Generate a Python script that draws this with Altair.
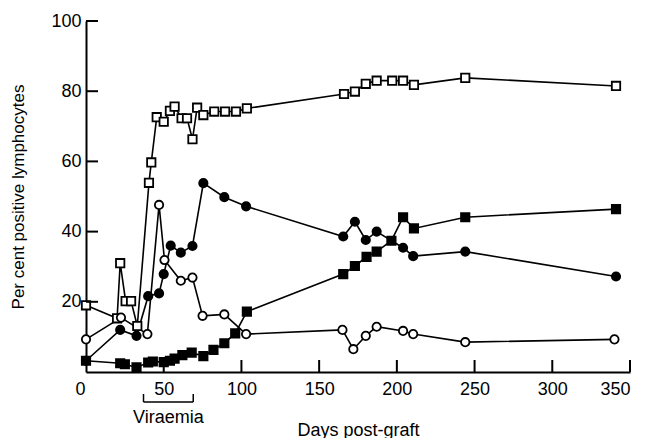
import altair as alt
import pandas as pd

# ---- data ----
open_sq_days = [0, 20, 22, 25.5, 29, 33, 40.5, 42, 45.5, 50, 54, 57, 61.5, 65, 68.5, 71.5, 75.5, 82.5, 89.5, 96.5, 103.5, 166, 173, 180, 187, 197, 204, 211, 244, 341]
open_sq_pct = [19, 15.3, 31, 20.2, 20.2, 13.1, 53.9, 59.7, 72.6, 71.3, 74.4, 75.6, 72.3, 72.3, 66.3, 75.3, 73.2, 74.2, 74.2, 74.2, 75.1, 79.2, 79.9, 82.1, 83, 83, 83, 81.8, 83.8, 81.5]

open_ci_days = [0, 22.5, 39.5, 47, 50.5, 61, 68.5, 75, 89, 103, 165, 172, 180, 187, 204, 210.5, 244, 340]
open_ci_pct = [9.3, 15.5, 10.8, 47.6, 31.9, 26, 26.9, 16, 16.4, 10.8, 12, 6.5, 10.3, 12.9, 11.7, 10.8, 8.5, 9.3]

filled_ci_days = [0, 22, 32.5, 40, 47, 50, 54.5, 61, 68.5, 75.5, 89, 103, 165.5, 173, 180, 187, 204, 210.5, 244, 341]
filled_ci_pct = [3.2, 12, 10.3, 21.6, 22.4, 27.9, 36, 34, 35.9, 53.8, 49.8, 47.2, 38.6, 42.8, 37.6, 40, 35.4, 33, 34.3, 27.2]

filled_sq_days = [0, 22, 25, 32.5, 40, 43, 50, 54, 57, 62, 68, 75.5, 82, 89, 96, 103.5, 165.5, 173, 180.5, 187, 196.5, 204, 211, 244, 341]
filled_sq_pct = [3.2, 2.5, 2.2, 1.3, 2.7, 3, 2.8, 3.2, 3.8, 4.8, 5.5, 4.5, 6.3, 8.2, 11, 17.2, 27.9, 30.2, 32.8, 34.3, 37.4, 44.1, 40.9, 44.1, 46.4]

series_names = ["open_square", "open_circle", "filled_circle", "filled_square"]
series_shapes = ["square", "circle", "circle", "square"]
series_fills = ["white", "white", "black", "black"]

x_tick_values = [0, 50, 100, 150, 200, 250, 300, 350]
y_tick_values = [0, 20, 40, 60, 80, 100]
x_inner_ticks = [50, 100, 150, 200, 250, 300, 350]
y_inner_ticks = [20, 40, 60, 80, 100]

viraemia_start = 37
viraemia_end = 69
viraemia_label = "Viraemia"

# ---- build tables ----
rows = []
for name, days, pct in [
    ("open_square", open_sq_days, open_sq_pct),
    ("open_circle", open_ci_days, open_ci_pct),
    ("filled_circle", filled_ci_days, filled_ci_pct),
    ("filled_square", filled_sq_days, filled_sq_pct),
]:
    for d, p in zip(days, pct):
        rows.append({"series": name, "day": d, "pct": p})
df = pd.DataFrame(rows)

W, H = 544, 351
FONT = "Liberation Sans"

xscale = alt.Scale(domain=[0, 350], nice=False, zero=False)
yscale = alt.Scale(domain=[0, 100], nice=False)

xenc = alt.X(
    "day:Q",
    scale=xscale,
    axis=alt.Axis(
        values=x_tick_values,
        title="Days post-graft",
        grid=False,
        ticks=False,
        domainColor="black",
        domainWidth=2,
        labelPadding=8,
        labelFontSize=18,
        labelFont=FONT,
        labelColor="black",
        labelOffset=alt.ExprRef("datum.value == 0 ? -11 : 0"),
        titleFontSize=18,
        titleFont=FONT,
        titleFontWeight="normal",
        titleColor="black",
        titleBaseline="middle",
        titleY=58,
    ),
)
yenc = alt.Y(
    "pct:Q",
    scale=yscale,
    axis=alt.Axis(
        values=y_tick_values,
        labelExpr="datum.value == 0 ? '' : datum.label",
        title="Per cent positive lymphocytes",
        grid=False,
        ticks=False,
        domainColor="black",
        domainWidth=2,
        labelPadding=5,
        labelFontSize=18,
        labelFont=FONT,
        labelColor="black",
        titleFontSize=17,
        titleFont=FONT,
        titleFontWeight="normal",
        titleColor="black",
        titleBaseline="middle",
        titleX=-68,
    ),
)

base = alt.Chart(df)

lines = base.mark_line(color="black", strokeWidth=1.6).encode(
    x=xenc, y=yenc, detail="series:N"
)

points = base.mark_point(filled=True, stroke="black", strokeWidth=1.8, opacity=1, size=70).encode(
    x=alt.X("day:Q", scale=xscale),
    y=alt.Y("pct:Q", scale=yscale),
    shape=alt.Shape("series:N", scale=alt.Scale(domain=series_names, range=series_shapes), legend=None),
    fill=alt.Fill("series:N", scale=alt.Scale(domain=series_names, range=series_fills), legend=None),
)

xt_df = pd.DataFrame({"t": x_inner_ticks})
x_ticks = alt.Chart(xt_df).mark_rule(color="black", strokeWidth=2).encode(
    x=alt.X("t:Q", scale=xscale),
    y=alt.value(H),
    y2=alt.value(H - 12),
)
yt_df = pd.DataFrame({"t": y_inner_ticks})
y_ticks = alt.Chart(yt_df).mark_rule(color="black", strokeWidth=2).encode(
    y=alt.Y("t:Q", scale=yscale),
    x=alt.value(0),
    x2=alt.value(12),
)

vir_df = pd.DataFrame({"start": [viraemia_start], "end": [viraemia_end],
                       "mid": [(viraemia_start + viraemia_end) / 2], "label": [viraemia_label]})
vir_bar = alt.Chart(vir_df).mark_rule(color="black", strokeWidth=1.5, clip=False).encode(
    x=alt.X("start:Q", scale=xscale), x2="end:Q", y=alt.value(H + 30)
)
vir_left = alt.Chart(vir_df).mark_rule(color="black", strokeWidth=1.5, clip=False).encode(
    x=alt.X("start:Q", scale=xscale), y=alt.value(H + 22), y2=alt.value(H + 30)
)
vir_right = alt.Chart(vir_df).mark_rule(color="black", strokeWidth=1.5, clip=False).encode(
    x=alt.X("end:Q", scale=xscale), y=alt.value(H + 22), y2=alt.value(H + 30)
)
vir_text = alt.Chart(vir_df).mark_text(font=FONT, fontSize=18, color="black", baseline="middle", align="center").encode(
    x=alt.X("mid:Q", scale=xscale), y=alt.value(H + 46), text="label:N"
)

chart = alt.layer(lines, points, x_ticks, y_ticks, vir_bar, vir_left, vir_right, vir_text).properties(
    width=W, height=H,
    autosize=alt.AutoSizeParams(type="none"),
    padding={"left": 78, "top": 13, "right": 9, "bottom": 66},
    background="white",
).configure_view(stroke=None)

chart.save("out.html", embed_options={"renderer": "svg", "actions": False})
